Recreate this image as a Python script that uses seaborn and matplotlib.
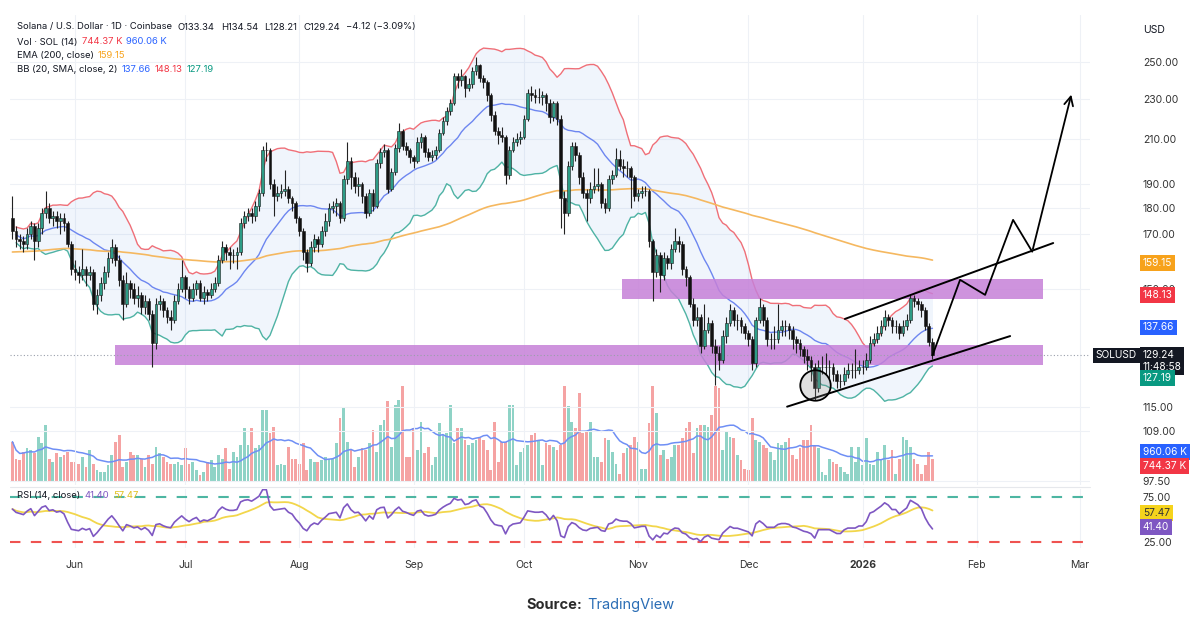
import numpy as np
import pandas as pd
import seaborn as sns
import matplotlib.pyplot as plt
import matplotlib.transforms as mtransforms
from matplotlib.ticker import FixedLocator, FixedFormatter, NullLocator

sns.set_style('white')
plt.rcParams['font.family'] = ['Inter', 'DejaVu Sans']

# ---------------- data (SOL/USD daily, Coinbase) ----------------
start = '2025-05-15'
open_first = 176
close = [171, 168, 167, 166, 170, 173, 167, 172, 178, 180,
         176, 177, 175, 176, 174, 166, 157, 156, 155, 157,
         155, 156, 145, 148, 152, 156, 161, 165, 160, 153,
         145, 152, 150, 147, 148, 144, 146, 142, 133, 145,
         146, 143, 141, 140, 146, 150, 154, 150, 147, 150,
         152, 147, 149, 148, 150, 152, 160, 165, 163, 162,
         162, 163, 174, 177, 178, 177, 181, 186, 205, 205,
         190, 185, 186, 187, 188, 184, 182, 176, 171, 163,
         159, 165, 168, 166, 171, 175, 180, 181, 182, 176,
         192, 200, 193, 189, 190, 185, 178, 186, 181, 199,
         204, 205, 188, 195, 206, 214, 207, 205, 202, 200,
         209, 211, 204, 202, 203, 205, 213, 219, 224, 228,
         242, 240, 242, 236, 238, 245, 248, 241, 239, 232,
         222, 214, 212, 211, 194, 205, 209, 210, 211, 220,
         233, 232, 231, 231, 232, 228, 221, 228, 220, 184,
         178, 198, 207, 203, 193, 186, 184, 188, 189, 190,
         182, 180, 192, 194, 201, 198, 197, 197, 193, 185,
         186, 187, 187, 167, 156, 162, 155, 161, 159, 164,
         167, 166, 157, 154, 145, 140, 141, 132, 137, 139,
         132, 130, 128, 135, 139, 143, 140, 140, 138, 136,
         134, 127, 140, 144, 140, 134, 134, 134, 137, 138,
         138, 137, 134, 133, 131, 129, 128, 126, 120, 126,
         126, 126, 126, 124, 122, 122, 124, 125, 125, 125,
         126, 126, 128, 133, 134, 136, 138, 141, 140, 138,
         138, 136, 138, 140, 147, 146, 145, 143, 138, 133.34,
         129.24]
high = [185, 173, 170, 169, 172, 175, 174, 174, 180, 187,
        182, 179, 179, 178, 178, 175, 167, 160, 158, 164,
        158, 158, 157, 150, 154, 158, 163, 168, 166, 162,
        155, 156, 153, 152, 151, 149, 148, 147, 143, 147,
        148, 147, 144, 143, 148, 152, 160, 155, 151, 152,
        153, 153, 151, 150, 152, 154, 162, 167, 166, 165,
        164, 165, 176, 179, 180, 180, 183, 188, 207, 209,
        206, 192, 189, 190, 196, 189, 185, 183, 177, 172,
        164, 167, 170, 169, 173, 178, 182, 183, 184, 183,
        194, 209, 202, 195, 193, 191, 186, 188, 188, 201,
        206, 208, 206, 197, 208, 218, 215, 209, 206, 203,
        211, 213, 212, 206, 205, 207, 215, 221, 226, 230,
        244, 244, 246, 243, 241, 247, 253, 249, 243, 240,
        233, 224, 216, 216, 212, 207, 211, 213, 214, 222,
        235, 237, 235, 236, 234, 233, 230, 229, 229, 222,
        187, 200, 209, 209, 204, 195, 188, 191, 197, 197,
        191, 184, 194, 196, 206, 205, 201, 200, 198, 194,
        188, 189, 189, 188, 168, 164, 163, 163, 162, 166,
        172, 169, 167, 158, 155, 147, 144, 142, 145, 141,
        140, 134, 132, 137, 141, 145, 144, 142, 141, 139,
        137, 135, 141, 147, 145, 141, 136, 138, 145, 140,
        140, 139, 138, 135, 134, 132, 131, 129, 127, 128,
        129, 130, 128, 127, 125, 124, 126, 127, 127, 131,
        128, 128, 130, 135, 136, 138, 140, 143, 142, 141,
        140, 139, 140, 142, 148, 148, 147, 146, 144, 139,
        134.54]
low = [168, 165, 164, 163, 164, 168, 160, 165, 170, 176,
       174, 173, 172, 170, 171, 165, 155, 153, 152, 153,
       151, 153, 143, 142, 146, 150, 154, 159, 158, 151,
       140, 144, 147, 145, 144, 142, 142, 140, 126, 131,
       143, 141, 139, 137, 139, 145, 149, 147, 145, 146,
       148, 146, 145, 146, 147, 149, 151, 159, 160, 157,
       159, 157, 162, 172, 175, 174, 175, 179, 185, 200,
       188, 177, 183, 184, 185, 182, 179, 174, 169, 160,
       156, 158, 163, 163, 165, 169, 173, 178, 177, 174,
       175, 190, 188, 186, 185, 182, 176, 177, 179, 180,
       197, 202, 186, 187, 194, 204, 205, 203, 199, 197,
       199, 206, 202, 200, 200, 201, 204, 212, 217, 222,
       227, 236, 237, 231, 234, 236, 243, 239, 236, 229,
       219, 212, 208, 209, 190, 192, 204, 207, 208, 210,
       219, 229, 228, 228, 227, 224, 218, 219, 217, 172,
       170, 177, 196, 200, 190, 184, 175, 182, 186, 187,
       180, 178, 179, 190, 193, 196, 193, 193, 180, 183,
       183, 184, 185, 165, 146, 154, 149, 153, 157, 157,
       163, 163, 155, 151, 144, 138, 138, 130, 131, 136,
       130, 121, 125, 127, 133, 138, 138, 137, 136, 134,
       132, 125, 126, 139, 138, 132, 131, 131, 133, 135,
       135, 134, 131, 130, 129, 127, 125, 122, 117, 119,
       124, 124, 123, 122, 120, 120, 121, 123, 123, 123,
       124, 124, 125, 127, 132, 133, 135, 137, 138, 136,
       136, 134, 135, 137, 139, 144, 143, 141, 137, 132,
       128.21]
# volume in thousands of SOL
volume_k = [1290, 750, 700, 970, 1075, 1020, 915, 1450, 1235, 1830,
            750, 645, 915, 805, 860, 970, 645, 645, 590, 805,
            485, 1020, 590, 375, 320, 320, 540, 860, 1290, 1505,
            485, 645, 970, 860, 860, 750, 485, 860, 590, 1130,
            915, 805, 645, 590, 590, 645, 540, 1075, 590, 645,
            375, 215, 320, 645, 700, 485, 860, 750, 1075, 430,
            970, 805, 1180, 1720, 1180, 1720, 1075, 1180, 2310, 2310,
            1560, 1775, 540, 590, 540, 1130, 750, 750, 590, 1235,
            375, 750, 645, 645, 700, 805, 750, 750, 1235, 2040,
            2365, 1290, 1020, 485, 805, 1075, 1020, 1235, 1665, 970,
            1830, 1990, 2580, 1130, 2470, 2635, 3065, 805, 805, 1720,
            1020, 1935, 915, 1130, 540, 805, 1880, 1505, 1560, 2470,
            1235, 1720, 1720, 1345, 1180, 1235, 1345,
            1400, 1345, 1020, 375, 1935, 645, 1290, 1290, 2470, 2470,
            540, 970, 1075, 1180, 1505, 1560, 1345, 540, 1235, 1180,
            1130, 1020, 1180, 3065, 2420, 1935, 1720, 2850, 1560, 1610,
            1935, 805, 805, 645, 1400, 1345, 970, 590, 270, 915,
            1075, 1180, 1450, 1290, 430, 430, 1880, 3065, 2200, 860,
            1020, 750, 805, 1180, 1180, 1400, 1720, 1935, 915, 1720,
            1830, 1830, 1775, 2150, 3065, 3010, 1020, 1610, 1450, 1400,
            860, 700, 430, 375, 2040, 1345, 1290, 1180, 1075, 970,
            700, 1235, 1180, 1290, 1400, 860, 750, 1075, 1345, 1345,
            1830, 1180, 1075, 320, 215, 750, 645, 590, 485, 320,
            270, 1130, 645, 1130, 540, 1400, 590, 540, 970, 700,
            1180, 700, 1020, 270, 750, 1450, 1345, 1130, 750, 590,
            270, 540, 970, 744.37]

ema_seed = 163
rsi_seed = (2.4, 1.5)          # starting average gain / loss
month_starts = ['2025-06-01', '2025-07-01', '2025-08-01', '2025-09-01', '2025-10-01',
                '2025-11-01', '2025-12-01', '2026-01-01', '2026-02-01', '2026-03-01']
month_labels = ['Jun', 'Jul', 'Aug', 'Sep', 'Oct', 'Nov', 'Dec', '2026', 'Feb', 'Mar']
price_ticks = [250, 230, 210, 190, 180, 170, 150, 115, 109, 97.5]

# drawn annotations (day index, price)
zone_upper = (165.6, 280, 146.8, 153.5)
zone_lower = (27.9, 280, 126.5, 132.4)
channel_low = ([210.5, 271.1], [115.2, 135.0])
channel_high = ([226.2, 282.8], [140.3, 166.4])
path_x = [250, 257.5, 264.3, 271.9, 277.1, 287.9]
path_y = [129.24, 153.2, 148.1, 175.3, 163.2, 233.7]
circle_pt = (218.1, 121.0)

# ---------------- indicators ----------------
c = pd.Series(close, dtype=float)
o = pd.Series([open_first] + close[:-1], dtype=float)
h = np.maximum(np.array(high, float), np.maximum(o, c))
l = np.minimum(np.array(low, float), np.minimum(o, c))
idx = np.arange(len(c))
up = (c >= o).values

bb_mid = c.rolling(20, min_periods=2).mean()
bb_sd = c.rolling(20, min_periods=2).std(ddof=0)
bb_up = bb_mid + 2 * bb_sd
bb_lo = bb_mid - 2 * bb_sd
ema = pd.Series([ema_seed] + close, dtype=float).ewm(span=200, adjust=False).mean()[1:].values

vol = pd.Series(volume_k, dtype=float) * 1000
vol_ma = vol.rolling(14, min_periods=1).mean()

d = c.diff().fillna(0).values
ag, al = rsi_seed
rsi = []
for step in d:
    ag = (ag * 13 + max(step, 0)) / 14
    al = (al * 13 + max(-step, 0)) / 14
    rsi.append(100 - 100 / (1 + ag / al))
rsi = pd.Series(rsi)
rsi_ma = rsi.rolling(14, min_periods=1).mean()

t0 = pd.Timestamp(start)
mpos = [(pd.Timestamp(m) - t0).days for m in month_starts]

# ---------------- figure ----------------
W, H = 1200, 619
fig = plt.figure(figsize=(12, 6.19), dpi=100, facecolor='white')


def rect(x0, y0, x1, y1):
    return [x0 / W, 1 - y1 / H, (x1 - x0) / W, (y1 - y0) / H]


ax_vol = fig.add_axes(rect(10, 382, 1090, 482))
ax = fig.add_axes(rect(10, 15, 1090, 485))
ax_rsi = fig.add_axes(rect(10, 489, 1090, 548))
ax_vol.set_zorder(0)
ax.set_zorder(1)
ax.patch.set_visible(False)

xlim = (-0.65, 292.8)
grid_c = '#eef1f6'

# volume
vcol = np.where(up, '#8fd3c6', '#f5a3a3')
ax_vol.bar(idx, vol, width=0.75, color=vcol, linewidth=0)
sns.lineplot(x=idx, y=vol_ma, ax=ax_vol, color='#6f8ff5', lw=1.1, legend=False)
ax_vol.set_xlim(*xlim)
ax_vol.set_ylim(0, 3.2e6)
ax_vol.axis('off')

# price pane
for m in mpos:
    ax.axvline(m, color=grid_c, lw=0.8, zorder=0)
for p in price_ticks:
    ax.axhline(p, color=grid_c, lw=0.8, zorder=0)

ax.fill_between(idx, bb_lo, bb_up, color='#2f7be0', alpha=0.07, lw=0, zorder=1)
sns.lineplot(x=idx, y=bb_up, ax=ax, color='#ef6f78', lw=1.0, legend=False, zorder=2)
sns.lineplot(x=idx, y=bb_lo, ax=ax, color='#4fb3a4', lw=1.0, legend=False, zorder=2)
sns.lineplot(x=idx, y=bb_mid, ax=ax, color='#6d86f0', lw=1.0, legend=False, zorder=2)
sns.lineplot(x=idx, y=ema, ax=ax, color='#f5b860', lw=1.2, legend=False, zorder=2)

for x0, x1, p0, p1 in (zone_upper, zone_lower):
    ax.fill_between([x0, x1], [p0, p0], [p1, p1], color='#c680d8', alpha=0.85, lw=0, zorder=3)

ax.axhline(close[-1], color='#9aa0ab', lw=0.8, ls=(0, (1, 2)), zorder=3)

ax.vlines(idx, l, h, color='#222222', lw=0.8, zorder=4)
ax.bar(idx, np.abs(c - o), bottom=np.minimum(o, c), width=0.75,
       color=np.where(up, '#2d9c86', '#111111'), edgecolor='#1a1a1a', linewidth=0.4, zorder=5)

ax.plot(*channel_low, color='black', lw=1.4, zorder=6)
ax.plot(*channel_high, color='black', lw=1.4, zorder=6)
ax.plot(path_x[:-1], path_y[:-1], color='black', lw=1.3, zorder=6)
ax.annotate('', xy=(path_x[-1], path_y[-1]), xytext=(path_x[-2], path_y[-2]),
            arrowprops=dict(arrowstyle='->', lw=1.3, color='black', mutation_scale=16), zorder=6)
ax.scatter([circle_pt[0]], [circle_pt[1]], s=480, facecolor=(0.5, 0.5, 0.5, 0.25),
           edgecolor='black', linewidth=1.3, zorder=7)

ax.set_yscale('log')
ax.set_ylim(96.6, 277.8)
ax.set_xlim(*xlim)
ax.yaxis.set_major_locator(FixedLocator(price_ticks))
ax.yaxis.set_major_formatter(FixedFormatter(['%.2f' % p for p in price_ticks]))
ax.yaxis.set_minor_locator(NullLocator())
ax.yaxis.tick_right()
ax.tick_params(axis='y', length=0, pad=38, labelsize=7.5, labelcolor='#333333')
ax.set_xticks([])
for a in (ax, ax_vol, ax_rsi):
    a.set_xlabel('')
    a.set_ylabel('')
for s in ax.spines.values():
    s.set_visible(False)

# RSI pane
for m in mpos:
    ax_rsi.axvline(m, color=grid_c, lw=0.8, zorder=0)
ax_rsi.axhline(75, color='#4db6a2', lw=1.5, ls=(0, (5, 5)))
ax_rsi.axhline(25, color='#ef5350', lw=1.5, ls=(0, (5, 5)))
sns.lineplot(x=idx, y=rsi_ma, ax=ax_rsi, color='#f2d64b', lw=1.3, legend=False)
sns.lineplot(x=idx, y=rsi, ax=ax_rsi, color='#7e57c2', lw=1.2, legend=False)
ax_rsi.set_xlim(*xlim)
ax_rsi.set_ylim(18.5, 83.7)
ax_rsi.set_ylabel('')
ax_rsi.yaxis.tick_right()
ax_rsi.set_yticks([75, 25])
ax_rsi.set_yticklabels(['75.00', '25.00'])
ax_rsi.tick_params(axis='y', length=0, pad=38, labelsize=7.5, labelcolor='#333333')
ax_rsi.set_xticks(mpos)
ax_rsi.set_xticklabels(month_labels)
ax_rsi.tick_params(axis='x', length=0, pad=9, labelsize=7.5, labelcolor='#333333')
ax_rsi.get_xticklabels()[7].set_fontweight('bold')
for s in ax_rsi.spines.values():
    s.set_visible(False)
fig.add_artist(plt.Line2D([10 / W, 1090 / W], [1 - 487 / H] * 2, color='#e6e8ec', lw=0.8))


# right-side value tags
def tag(axis, val, s, bg, fg='white', dy=0):
    axis.annotate(s, xy=(1, val), xycoords=axis.get_yaxis_transform(),
                  xytext=(38, dy), textcoords='offset points', ha='left', va='center',
                  fontsize=7.3, color=fg, zorder=10, annotation_clip=False,
                  bbox=dict(boxstyle='square,pad=0.28', fc=bg, ec='none'))


tag(ax, 159.15, '159.15', '#f7a21b')
tag(ax, 148.13, '148.13', '#f23645')
tag(ax, 137.66, '137.66', '#2962ff')
tag(ax, 129.24, '129.24\n11:48:58', '#131722', dy=-4)
tag(ax, 127.19, '127.19', '#089981', dy=-11)
ax.annotate('SOLUSD', xy=(1, 129.24), xycoords=ax.get_yaxis_transform(),
            xytext=(4, 0), textcoords='offset points', ha='left', va='center',
            fontsize=7.3, color='white', annotation_clip=False, zorder=10,
            bbox=dict(boxstyle='square,pad=0.28', fc='#131722', ec='none'))
tag(ax_vol, 960.06e3, '960.06 K', '#2962ff')
tag(ax_vol, 744.37e3, '744.37 K', '#f23645', dy=-5)
tag(ax_rsi, 57.47, '57.47', '#f5d31c', fg='#333333')
tag(ax_rsi, 41.40, '41.40', '#7e57c2')

# header text
pix = mtransforms.IdentityTransform()
fig.canvas.draw()
rend = fig.canvas.get_renderer()


def chain(x, y, parts, size=6.8, gap=4):
    arts = []
    for s, col, wt in parts:
        t = fig.text(x, H - y, s, color=col, fontsize=size, fontweight=wt,
                     va='center', ha='left', transform=pix)
        x += t.get_window_extent(rend).width + gap
        arts.append(t)
    return arts, x


dark = '#131722'
chain(17, 27, [('Solana / U.S. Dollar · 1D · Coinbase', dark, 'normal'),
               ('O133.34', dark, 'normal'), ('H134.54', dark, 'normal'),
               ('L128.21', dark, 'normal'), ('C129.24', dark, 'normal'),
               ('−4.12 (−3.09%)', dark, 'normal')], gap=6)
chain(17, 42, [('Vol · SOL (14)', dark, 'normal'), ('744.37 K', '#f23645', 'normal'),
               ('960.06 K', '#2962ff', 'normal')])
chain(17, 56, [('EMA (200, close)', dark, 'normal'), ('159.15', '#f7a21b', 'normal')])
chain(17, 69, [('BB (20, SMA, close, 2)', dark, 'normal'), ('137.66', '#2962ff', 'normal'),
               ('148.13', '#f23645', 'normal'), ('127.19', '#089981', 'normal')])
chain(17, 496, [('RSI (14, close)', dark, 'normal'), ('41.40', '#7e57c2', 'normal'),
                ('57.47', '#e0bf1a', 'normal')])
fig.text(1143, H - 30, 'USD', fontsize=7.5, color=dark, va='center', ha='left', transform=pix)

# source line, centred
arts, xend = chain(0, 605, [('Source:', '#2b2b2b', 'bold'), ('TradingView', '#2a6db5', 'normal')],
                   size=10.5, gap=5)
shift = (W - (xend - 5)) / 2
for t in arts:
    px, py = t.get_position()
    t.set_position((px + shift, py))

fig.savefig('out.png', dpi=100, facecolor='white')
